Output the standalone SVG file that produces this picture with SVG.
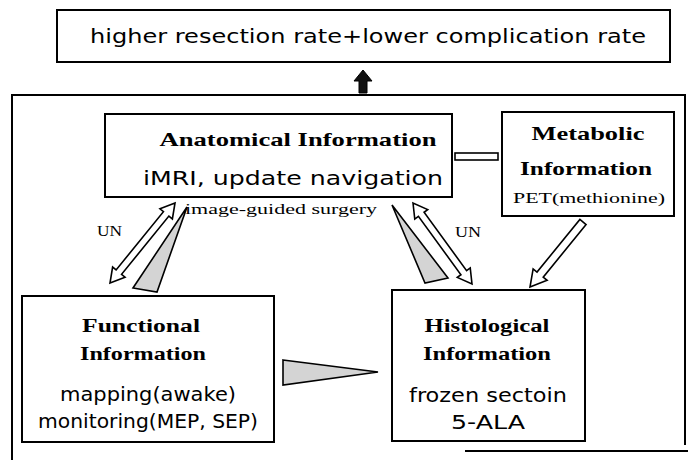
<svg xmlns="http://www.w3.org/2000/svg" width="688" height="460" viewBox="0 0 688 460">
<style>
.box{fill:#fff;stroke:#000;stroke-width:2}
.frame{fill:none;stroke:#000;stroke-width:2}
.hd{font-family:"Liberation Serif",serif;font-weight:bold;font-size:19px;fill:#000;text-anchor:middle}
.sn{font-family:"DejaVu Sans","Liberation Sans",sans-serif;font-size:19px;fill:#000;text-anchor:middle}
.sr{font-family:"Liberation Serif",serif;font-size:15px;fill:#000}
.hollow{fill:#fff;stroke:#000;stroke-width:1.6;stroke-linejoin:miter}
.wedge{fill:#d4d4d4;stroke:#000;stroke-width:1.6}
</style>
<rect width="688" height="460" fill="#fff"/>
<g id="frame">
<line class="frame" x1="12" y1="95" x2="685" y2="95"/>
<line class="frame" x1="12" y1="94" x2="12" y2="460"/>
<line class="frame" x1="685" y1="94" x2="685" y2="445"/>
<line class="frame" x1="465" y1="451" x2="688" y2="451"/>
</g>
<g id="outcome">
<rect class="box" x="57" y="10" width="613" height="52"/>
<text class="sn" x="368" y="43" textLength="556" lengthAdjust="spacingAndGlyphs">higher resection rate+lower complication rate</text>
</g>
<g id="anatomical">
<rect class="box" x="105" y="114" width="347" height="83"/>
<text class="hd" x="298" y="146" textLength="277" lengthAdjust="spacingAndGlyphs">Anatomical Information</text>
<text class="sn" x="293" y="185" textLength="300" lengthAdjust="spacingAndGlyphs">iMRI, update navigation</text>
</g>
<g id="metabolic">
<rect class="box" x="502" y="112" width="172" height="104"/>
<text class="hd" x="588" y="140" textLength="113" lengthAdjust="spacingAndGlyphs">Metabolic</text>
<text class="hd" x="586" y="175" textLength="132" lengthAdjust="spacingAndGlyphs">Information</text>
<text class="sr" x="589" y="203" text-anchor="middle" font-size="14" textLength="152" lengthAdjust="spacingAndGlyphs">PET(methionine)</text>
</g>
<g id="functional">
<rect class="box" x="22" y="296" width="252" height="146"/>
<text class="hd" x="141" y="332" textLength="118" lengthAdjust="spacingAndGlyphs">Functional</text>
<text class="hd" x="143" y="360" textLength="126" lengthAdjust="spacingAndGlyphs">Information</text>
<text class="sn" x="148" y="401" textLength="176" lengthAdjust="spacingAndGlyphs">mapping(awake)</text>
<text class="sn" x="148" y="428" font-size="18" textLength="220" lengthAdjust="spacingAndGlyphs">monitoring(MEP, SEP)</text>
</g>
<g id="histological">
<rect class="box" x="392" y="290" width="193" height="151"/>
<text class="hd" x="487" y="332" textLength="125" lengthAdjust="spacingAndGlyphs">Histological</text>
<text class="hd" x="487" y="360" textLength="128" lengthAdjust="spacingAndGlyphs">Information</text>
<text class="sn" x="488" y="402" textLength="158" lengthAdjust="spacingAndGlyphs">frozen sectoin</text>
<text class="sn" x="488" y="429" textLength="74" lengthAdjust="spacingAndGlyphs">5-ALA</text>
</g>
<g id="connectors">
<polygon fill="#111" stroke="#000" stroke-width="1" points="363,70 372,81 367,81 367,93 359,93 359,81 354,81"/>
<rect class="hollow" x="455" y="153" width="43" height="7"/>
<polygon class="hollow" points="175,203 172.38,218.91 168.89,216.08 121.55,274.34 125.04,277.17 110,283 112.62,267.09 116.11,269.92 163.45,211.66 159.96,208.83"/>
<polygon class="wedge" points="187,207 157,292 133,288"/>
<polygon class="wedge" points="392,205 448,278 425,283"/>
<polygon class="hollow" points="413,203 414.77,219.03 418.41,216.38 460.93,274.74 457.29,277.39 472,284 470.23,267.97 466.59,270.62 424.07,212.26 427.71,209.61"/>
<polygon class="hollow" points="586.1,224.53 543.21,277.13 547.09,280.29 530,287 533.13,268.91 537.01,272.07 579.9,219.47"/>
<polygon class="wedge" points="283,360 378,372 283,385"/>
<text class="sr" x="97" y="236" textLength="25" lengthAdjust="spacingAndGlyphs">UN</text>
<text class="sr" x="455" y="237" textLength="26" lengthAdjust="spacingAndGlyphs">UN</text>
<text class="sr" x="185" y="214" textLength="192" lengthAdjust="spacingAndGlyphs">image-guided surgery</text>
</g>
</svg>
